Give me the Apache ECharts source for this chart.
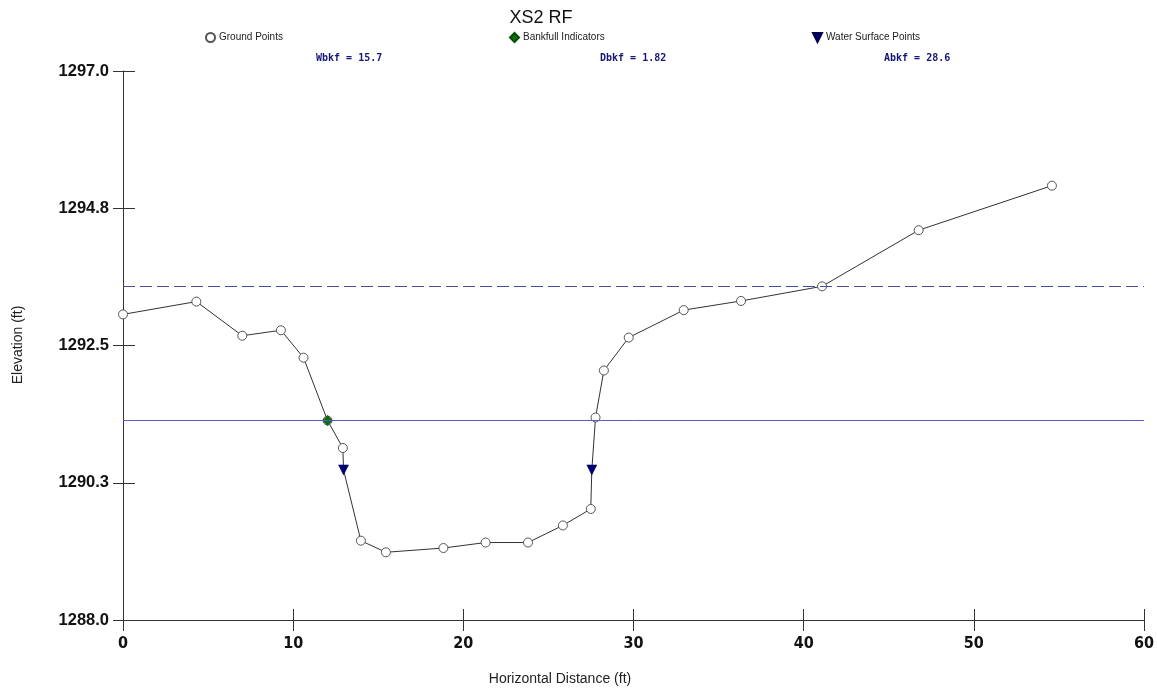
<!DOCTYPE html>
<html><head><meta charset="utf-8">
<script src="https://cdn.jsdelivr.net/npm/echarts@6/dist/echarts.min.js"></script>
<style>html,body{margin:0;padding:0;background:#fff}#c{width:1157px;height:689px}</style>
</head><body><div id="c"></div>
<script>
const groundDist = [0, 4.31, 7.01, 9.28, 10.61, 12.02, 12.92, 13.98, 15.45, 18.83, 21.31, 23.80, 25.85, 27.49, 27.77, 28.26, 29.72, 32.95, 36.32, 41.08, 46.76, 54.59];
const groundElev = [1293.01, 1293.22, 1292.66, 1292.75, 1292.30, 1291.27, 1290.82, 1289.30, 1289.11, 1289.18, 1289.27, 1289.27, 1289.55, 1289.82, 1291.32, 1292.09, 1292.63, 1293.08, 1293.23, 1293.47, 1294.39, 1295.12];
const bankfullDist = [12.02];
const bankfullElev = [1291.27];
const wsDist = [12.96, 27.55];
const wsElev = [1290.46, 1290.46];
const bankfullStage = 1291.27;
const floodProneStage = 1293.47;
const xTickLabels = ['0','10','20','30','40','50','60'];
const yTickLabels = ['1288.0','1290.3','1292.5','1294.8','1297.0'];
const statLabels = ['Wbkf = 15.7','Dbkf = 1.82','Abkf = 28.6'];
const legendNames = ['Ground Points','Bankfull Indicators','Water Surface Points'];

const groundPts = groundDist.map((d,i)=>[d, groundElev[i]]);
const wsPts = wsDist.map((d,i)=>[d, wsElev[i]]);
const bkPts = bankfullDist.map((d,i)=>[d, bankfullElev[i]]);
const profile = groundPts.concat(wsPts).sort((a,b)=>a[0]-b[0]);

const triPath = 'path://M0,0L10,0L5,10Z';
const sans = 'Arial, "Liberation Sans", sans-serif';
const chart = echarts.init(document.getElementById('c'), null, {renderer:'canvas'});
chart.setOption({
  animation:false,
  backgroundColor:'#ffffff',
  grid:{left:123, right:12, top:71, bottom:69, containLabel:false},
  legend:[
    {left:200, top:27, itemWidth:9, itemHeight:9, itemGap:0, data:[legendNames[0]], textStyle:{fontSize:10, color:'#222', fontFamily:sans, padding:[0,0,0,-1]}},
    {left:504, top:27, itemWidth:9, itemHeight:9, itemGap:0, data:[legendNames[1]], textStyle:{fontSize:10, color:'#222', fontFamily:sans, padding:[0,0,0,-1]}},
    {left:807, top:27, itemWidth:9, itemHeight:9, itemGap:0, data:[{name:legendNames[2], icon:triPath}], textStyle:{fontSize:10, color:'#222', fontFamily:sans, padding:[0,0,0,-1]}}
  ],
  graphic:[
    {type:'text', style:{text:'XS2 RF', x:541, y:18, textAlign:'center', textVerticalAlign:'middle', font:'18px '+sans, fill:'#111'}},
    {type:'text', style:{text:statLabels[0], x:316, y:58, textVerticalAlign:'middle', font:'bold 10px "DejaVu Sans Mono", monospace', fill:'#16167a'}},
    {type:'text', style:{text:statLabels[1], x:600, y:58, textVerticalAlign:'middle', font:'bold 10px "DejaVu Sans Mono", monospace', fill:'#16167a'}},
    {type:'text', style:{text:statLabels[2], x:884, y:58, textVerticalAlign:'middle', font:'bold 10px "DejaVu Sans Mono", monospace', fill:'#16167a'}},
    {type:'text', rotation:Math.PI/2, x:18, y:345, style:{text:'Elevation (ft)', textAlign:'center', textVerticalAlign:'middle', font:'14px '+sans, fill:'#222'}},
    {type:'text', style:{text:'Horizontal Distance (ft)', x:560, y:679, textAlign:'center', textVerticalAlign:'middle', font:'14px '+sans, fill:'#222'}}
  ],
  xAxis:[
    {type:'value', min:0, max:60, interval:10, position:'bottom',
     axisLine:{show:true, onZero:false, lineStyle:{color:'#333', width:1}},
     axisTick:{show:true, inside:false, length:11, lineStyle:{color:'#333'}},
     axisLabel:{margin:16, fontSize:16, fontWeight:'bold', color:'#111', fontFamily:'"DejaVu Sans Condensed", "Liberation Sans Narrow", Arial, sans-serif',
       formatter:v=>xTickLabels[Math.round(v/10)]},
     splitLine:{show:false}},
    {type:'value', min:0, max:60, interval:10, position:'bottom',
     axisLine:{show:false, onZero:false}, axisTick:{show:true, inside:true, length:11, lineStyle:{color:'#333'}},
     axisLabel:{show:false}, splitLine:{show:false}}
  ],
  yAxis:[
    {type:'value', min:1288, max:1297, position:'left',
     axisLine:{show:true, onZero:false, lineStyle:{color:'#333', width:1}},
     axisTick:{show:false}, axisLabel:{show:false}, splitLine:{show:false}},
    {type:'value', min:0, max:9, interval:2.25, position:'left',
     axisLine:{show:false, onZero:false}, axisTick:{show:true, inside:false, length:10, lineStyle:{color:'#333'}},
     axisLabel:{margin:14, fontSize:16.5, fontWeight:'bold', color:'#111', fontFamily:sans,
       formatter:v=>yTickLabels[Math.round(v/2.25)]},
     splitLine:{show:false}},
    {type:'value', min:0, max:9, interval:2.25, position:'left',
     axisLine:{show:false, onZero:false}, axisTick:{show:true, inside:true, length:12, lineStyle:{color:'#333'}},
     axisLabel:{show:false}, splitLine:{show:false}}
  ],
  series:[
    {type:'line', name:'profile', data:profile, showSymbol:false, symbol:'none', z:2,
     lineStyle:{color:'#333', width:1}, silent:true,
     markLine:{silent:true, symbol:['none','none'], label:{show:false},
       data:[
         {yAxis:bankfullStage, lineStyle:{color:'#5a5ad2', width:1, type:'solid'}},
         {yAxis:floodProneStage, lineStyle:{color:'#4b4b9b', width:1, type:[12,5]}}
       ]}},
    {type:'scatter', name:legendNames[0], data:groundPts, symbol:'circle', symbolSize:9, z:3,
     itemStyle:{color:'#ffffff', borderColor:'#555', borderWidth:1, opacity:1}},
    {type:'scatter', name:legendNames[1], data:bkPts, symbol:'diamond', symbolSize:10, z:4,
     itemStyle:{color:'#0a6e0a', borderColor:'#064d06', borderWidth:0.5, opacity:1}},
    {type:'scatter', name:legendNames[2], data:wsPts, symbol:triPath, symbolSize:[10,10], z:5,
     itemStyle:{color:'#000078', borderColor:'#00004a', borderWidth:0.5, opacity:1}}
  ]
});
</script>
</body></html>
